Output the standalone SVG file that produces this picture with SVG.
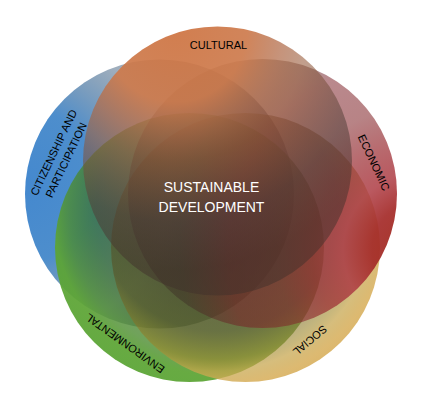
<svg xmlns="http://www.w3.org/2000/svg" width="421" height="415" viewBox="0 0 421 415">
<defs>
<radialGradient id="gCit" gradientUnits="userSpaceOnUse" cx="20" cy="185" r="260">
<stop offset="0" stop-color="#3a82cc" stop-opacity="0.95"/>
<stop offset="0.3" stop-color="#3e84c8" stop-opacity="0.92"/>
<stop offset="0.45" stop-color="#4a78a4" stop-opacity="0.72"/>
<stop offset="0.58" stop-color="#526d88" stop-opacity="0.55"/>
<stop offset="0.75" stop-color="#2c3e50" stop-opacity="0.5"/>
<stop offset="1" stop-color="#223040" stop-opacity="0.5"/>
</radialGradient>
<radialGradient id="gEnv" gradientUnits="userSpaceOnUse" cx="217" cy="211" r="200">
<stop offset="0" stop-color="#24381a" stop-opacity="0.55"/>
<stop offset="0.6" stop-color="#356a24" stop-opacity="0.65"/>
<stop offset="0.74" stop-color="#4c8c30" stop-opacity="0.8"/>
<stop offset="0.82" stop-color="#5ca434" stop-opacity="0.93"/>
<stop offset="1" stop-color="#5aa636" stop-opacity="0.95"/>
</radialGradient>
<radialGradient id="gSoc" gradientUnits="userSpaceOnUse" cx="217" cy="211" r="200">
<stop offset="0" stop-color="#3a3020" stop-opacity="0.5"/>
<stop offset="0.6" stop-color="#5a4e1e" stop-opacity="0.55"/>
<stop offset="0.74" stop-color="#9a8428" stop-opacity="0.6"/>
<stop offset="0.8" stop-color="#c6a44a" stop-opacity="0.72"/>
<stop offset="0.87" stop-color="#d8b05e" stop-opacity="0.88"/>
<stop offset="1" stop-color="#d6aa52" stop-opacity="0.92"/>
</radialGradient>
<radialGradient id="gEco" gradientUnits="userSpaceOnUse" cx="420" cy="250" r="240">
<stop offset="0" stop-color="#a02818" stop-opacity="0.95"/>
<stop offset="0.2" stop-color="#a42a28" stop-opacity="0.92"/>
<stop offset="0.32" stop-color="#ae3c44" stop-opacity="0.85"/>
<stop offset="0.45" stop-color="#9a2a30" stop-opacity="0.7"/>
<stop offset="0.6" stop-color="#82262a" stop-opacity="0.57"/>
<stop offset="0.8" stop-color="#7a1c24" stop-opacity="0.52"/>
<stop offset="1" stop-color="#3c2c24" stop-opacity="0.45"/>
</radialGradient>
<radialGradient id="gCul" gradientUnits="userSpaceOnUse" cx="175" cy="30" r="240">
<stop offset="0" stop-color="#cf7746" stop-opacity="0.95"/>
<stop offset="0.3" stop-color="#cd7a4c" stop-opacity="0.92"/>
<stop offset="0.45" stop-color="#b06a48" stop-opacity="0.72"/>
<stop offset="0.55" stop-color="#9a5f40" stop-opacity="0.6"/>
<stop offset="0.8" stop-color="#54403a" stop-opacity="0.55"/>
<stop offset="1" stop-color="#40302a" stop-opacity="0.5"/>
</radialGradient>
</defs>
<style>
.lbl{font-family:"Liberation Sans",Arial,sans-serif;font-size:11px;fill:#000;text-anchor:middle}
.ctr{font-family:"Liberation Sans",Arial,sans-serif;font-size:14px;fill:#fff;text-anchor:middle}
</style>
<g id="citizenship">
<circle cx="159.5" cy="194" r="134.5" fill="url(#gCit)"/>
</g>
<g id="environmental">
<circle cx="189.5" cy="247.5" r="134.5" fill="url(#gEnv)"/>
</g>
<g id="social">
<circle cx="245.5" cy="247.5" r="134.5" fill="url(#gSoc)"/>
</g>
<g id="economic">
<circle cx="262.5" cy="193.5" r="134.5" fill="url(#gEco)"/>
</g>
<g id="cultural">
<circle cx="217.5" cy="161" r="134.5" fill="url(#gCul)"/>
</g>
<g id="labels">
<text class="lbl" x="218.5" y="49">CULTURAL</text>
<text class="lbl" transform="translate(374,162.5) rotate(65)" x="0" y="4">ECONOMIC</text>
<text class="lbl" transform="translate(310,340.5) rotate(140)" x="0" y="4">SOCIAL</text>
<text class="lbl" transform="translate(125,343.5) rotate(-144.5)" x="0" y="4">ENVIRONMENTAL</text>
<text class="lbl" transform="translate(53.5,152.5) rotate(-64.5)" x="0" y="4">CITIZENSHIP AND</text>
<text class="lbl" transform="translate(66,160) rotate(-64.5)" x="0" y="4">PARTICIPATION</text>
</g>
<g id="center">
<text class="ctr" x="211.5" y="192">SUSTAINABLE</text>
<text class="ctr" x="211.5" y="212">DEVELOPMENT</text>
</g>
</svg>
